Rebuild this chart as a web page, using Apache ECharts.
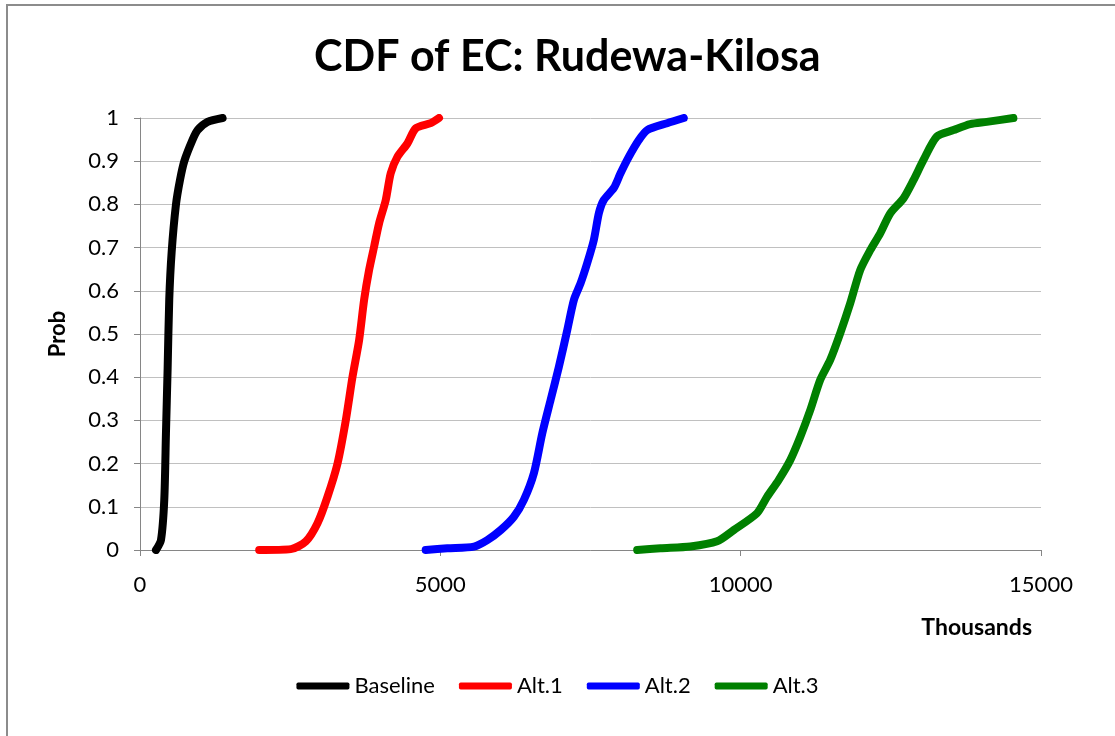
<!DOCTYPE html>
<html>
<head>
<meta charset="utf-8">
<script src="https://cdn.jsdelivr.net/npm/echarts@6/dist/echarts.min.js"></script>
<style>
  html, body { margin: 0; padding: 0; background: #fff; }
  #chart { width: 1115px; height: 736px; }
</style>
</head>
<body>
<div id="chart"></div>
<script>
/* ------------------------------------------------------------------ */
/*                  CDF of EC: Rudewa-Kilosa                          */
/* ------------------------------------------------------------------ */

const seriesNames = ['Baseline', 'Alt.1', 'Alt.2', 'Alt.3'];
const seriesColors = ['#000000', '#ff0000', '#0000ff', '#008000'];

// x values in thousands, y = cumulative probability
const baselineX = [266, 349, 404, 432, 460, 487, 527, 599, 665, 737, 876, 959, 1125, 1375];
const baselineY = [0, 0.023, 0.116, 0.27, 0.42, 0.58, 0.69, 0.8, 0.856, 0.9, 0.95, 0.972, 0.991, 1];

const alt1X = [1984, 2511, 2761, 2955, 3121, 3288, 3426, 3537, 3648, 3731, 3814, 3897, 3980, 4091, 4174, 4285, 4452, 4590, 4839, 4978];
const alt1Y = [0, 0.002, 0.02, 0.062, 0.123, 0.2, 0.3, 0.4, 0.486, 0.579, 0.648, 0.702, 0.756, 0.81, 0.872, 0.91, 0.941, 0.976, 0.988, 1];

const alt2X = [4756, 5117, 5560, 5782, 6004, 6225, 6391, 6558, 6697, 6835, 6974, 7113, 7224, 7334, 7445, 7556, 7640, 7720, 7889, 8000, 8138, 8305, 8444, 8776, 9053];
const alt2Y = [0, 0.004, 0.008, 0.023, 0.046, 0.077, 0.116, 0.178, 0.27, 0.347, 0.424, 0.509, 0.579, 0.617, 0.664, 0.718, 0.78, 0.81, 0.838, 0.872, 0.91, 0.949, 0.972, 0.988, 1];

const alt3X = [8277, 8665, 9163, 9607, 9884, 10272, 10439, 10632, 10826, 10993, 11159, 11325, 11491, 11658, 11824, 11990, 12157, 12323, 12489, 12711, 12877, 13044, 13265, 13542, 13820, 14097, 14540];
const alt3Y = [0, 0.004, 0.008, 0.02, 0.046, 0.085, 0.123, 0.162, 0.208, 0.262, 0.324, 0.394, 0.44, 0.502, 0.571, 0.648, 0.694, 0.733, 0.779, 0.814, 0.856, 0.903, 0.957, 0.972, 0.986, 0.991, 1];

const seriesX = [baselineX, alt1X, alt2X, alt3X];
const seriesY = [baselineY, alt1Y, alt2Y, alt3Y];

const font = 'Lato, "Liberation Sans", sans-serif';
const axisGray = '#868686';
const gridGray = '#c0c0c0';

const chart = echarts.init(document.getElementById('chart'));

const option = {
  animation: false,
  backgroundColor: '#fff',
  textStyle: { fontFamily: font },
  title: {
    text: 'CDF of EC: Rudewa-Kilosa',
    left: 314,
    top: 36,
    padding: 0,
    textStyle: { fontFamily: font, fontSize: 43, fontWeight: 'bold', color: '#000' },
  },
  graphic: [
    {
      type: 'rect',
      shape: { x: 7, y: 5, width: 1200, height: 800 },
      style: { fill: 'none', stroke: '#8c8c8c', lineWidth: 2 },
      silent: true,
    },
  ],
  legend: {
    data: seriesNames,
    left: 'center',
    top: 670,
    icon: 'roundRect',
    itemWidth: 53,
    itemHeight: 7,
    itemGap: 24,
    textStyle: { fontFamily: font, fontSize: 22, color: '#000' },
  },
  grid: {
    left: 140,
    right: 74,
    top: 118,
    bottom: 186,
  },
  xAxis: {
    type: 'value',
    min: 0,
    max: 15000,
    interval: 5000,
    name: 'Thousands',
    nameLocation: 'end',
    nameGap: -9,
    nameTextStyle: {
      fontFamily: font,
      fontSize: 23,
      fontWeight: 'bold',
      color: '#000',
      align: 'right',
      verticalAlign: 'top',
      padding: [66, 0, 0, 0],
    },
    axisLine: { show: true, lineStyle: { color: axisGray, width: 1 } },
    axisTick: { show: true, inside: false, length: 6, lineStyle: { color: axisGray } },
    axisLabel: {
      fontFamily: font,
      fontSize: 22,
      color: '#000',
      margin: 24,
      formatter: v => String(v),
    },
    splitLine: { show: false },
  },
  yAxis: {
    type: 'value',
    min: 0,
    max: 1,
    interval: 0.1,
    name: 'Prob',
    nameLocation: 'middle',
    nameRotate: 90,
    nameGap: 71,
    nameTextStyle: { fontFamily: font, fontSize: 22, fontWeight: 'bold', color: '#000' },
    axisLine: { show: true, lineStyle: { color: axisGray, width: 1 } },
    axisTick: { show: true, inside: false, length: 6, lineStyle: { color: axisGray } },
    axisLabel: {
      fontFamily: font,
      fontSize: 22,
      color: '#000',
      margin: 21,
      formatter: v => String(Math.round(v * 10) / 10),
    },
    splitLine: { show: true, lineStyle: { color: gridGray, width: 1 } },
  },
  series: seriesNames.map((name, i) => ({
    name,
    type: 'line',
    showSymbol: false,
    symbol: 'none',
    smooth: 0.25,
    data: seriesX[i].map((x, j) => [x, seriesY[i][j]]),
    itemStyle: { color: seriesColors[i] },
    lineStyle: { color: seriesColors[i], width: 8, cap: 'round', join: 'round' },
  })),
};

chart.setOption(option);
</script>
</body>
</html>
